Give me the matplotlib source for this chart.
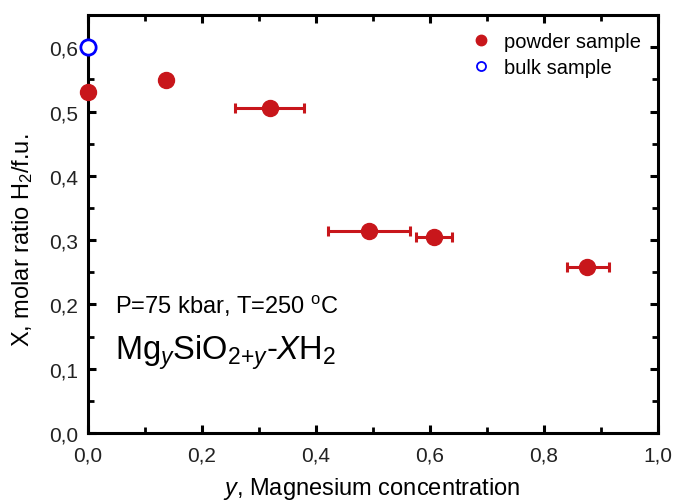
import matplotlib
matplotlib.use("Agg")
import matplotlib.pyplot as plt
from matplotlib.ticker import MultipleLocator, FuncFormatter

plt.rcParams['font.family'] = ['Liberation Sans', 'DejaVu Sans']
plt.rcParams['mathtext.fontset'] = 'custom'
plt.rcParams['mathtext.rm'] = 'Liberation Sans'
plt.rcParams['mathtext.it'] = 'Liberation Sans:italic'

# data
powder_y = [0.0, 0.137, 0.319, 0.493, 0.607, 0.875]
powder_X = [0.530, 0.549, 0.505, 0.314, 0.305, 0.258]
powder_xerr_lo = [0.0, 0.0, 0.061, 0.072, 0.032, 0.035]
powder_xerr_hi = [0.0, 0.0, 0.060, 0.072, 0.032, 0.039]
bulk_y = [0.0]
bulk_X = [0.60]

red = '#C8161B'
blue = '#0000FF'

fig = plt.figure(figsize=(6.73, 5.02), dpi=100)
ax = fig.add_axes([0.1308, 0.1355, 0.8469, 0.8325])

ax.errorbar(powder_y, powder_X, xerr=[powder_xerr_lo, powder_xerr_hi], fmt='o',
            color=red, ms=11.5, elinewidth=2.2, capsize=3.5, capthick=2.2,
            clip_on=False, zorder=3, label='_nolegend_')
ax.plot([], [], 'o', color=red, ms=7.5, label='powder sample')
ax.plot(bulk_y, bulk_X, 'o', mfc='white', mec=blue, mew=2, ms=11,
        clip_on=False, zorder=4, label='_nolegend_')
ax.plot([], [], 'o', mfc='white', mec=blue, mew=1.3, ms=6.5, label='bulk sample')

ax.set_xlim(0, 1.0)
ax.set_ylim(0, 0.65)
ax.xaxis.set_major_locator(MultipleLocator(0.2))
ax.xaxis.set_minor_locator(MultipleLocator(0.1))
ax.yaxis.set_major_locator(MultipleLocator(0.1))
ax.yaxis.set_minor_locator(MultipleLocator(0.05))
fmt = FuncFormatter(lambda v, p: f"{v:.1f}".replace('.', ','))
ax.xaxis.set_major_formatter(fmt)
ax.yaxis.set_major_formatter(fmt)

for s in ax.spines.values():
    s.set_linewidth(2.2)
ax.tick_params(which='both', direction='in', top=True, right=True,
               labelsize=15, colors='black')
ax.tick_params(axis='x', pad=9)
ax.tick_params(axis='y', pad=7)
ax.tick_params(which='major', length=6, width=2.2)
ax.tick_params(which='minor', length=4, width=2.0)
for lab in ax.get_xticklabels() + ax.get_yticklabels():
    lab.set_color('#222222')

ax.set_xlabel(r'$\mathit{y}$, Magnesium concentration', fontsize=17)
ax.set_ylabel(r'X, molar ratio H$_2$/f.u.', fontsize=17)
ax.xaxis.set_label_coords(0.498, -0.1)
ax.yaxis.set_label_coords(-0.093, 0.464)

ax.text(0.047, 0.305, 'P=75 kbar, T=250 $^\\mathrm{o}$C', transform=ax.transAxes,
        fontsize=17, va='center', ha='left')
ax.text(0.047, 0.195, r'Mg$_{\mathit{y}}$SiO$_{2\mathit{+y}}$-$\mathit{X}$H$_2$',
        transform=ax.transAxes, fontsize=23.5, va='center', ha='left')

leg = ax.legend(loc='upper right', frameon=False, fontsize=14.5,
                handletextpad=0.4, borderaxespad=0.45, labelspacing=0.35,
                handlelength=1.5)

fig.savefig('out.png', dpi=100)
